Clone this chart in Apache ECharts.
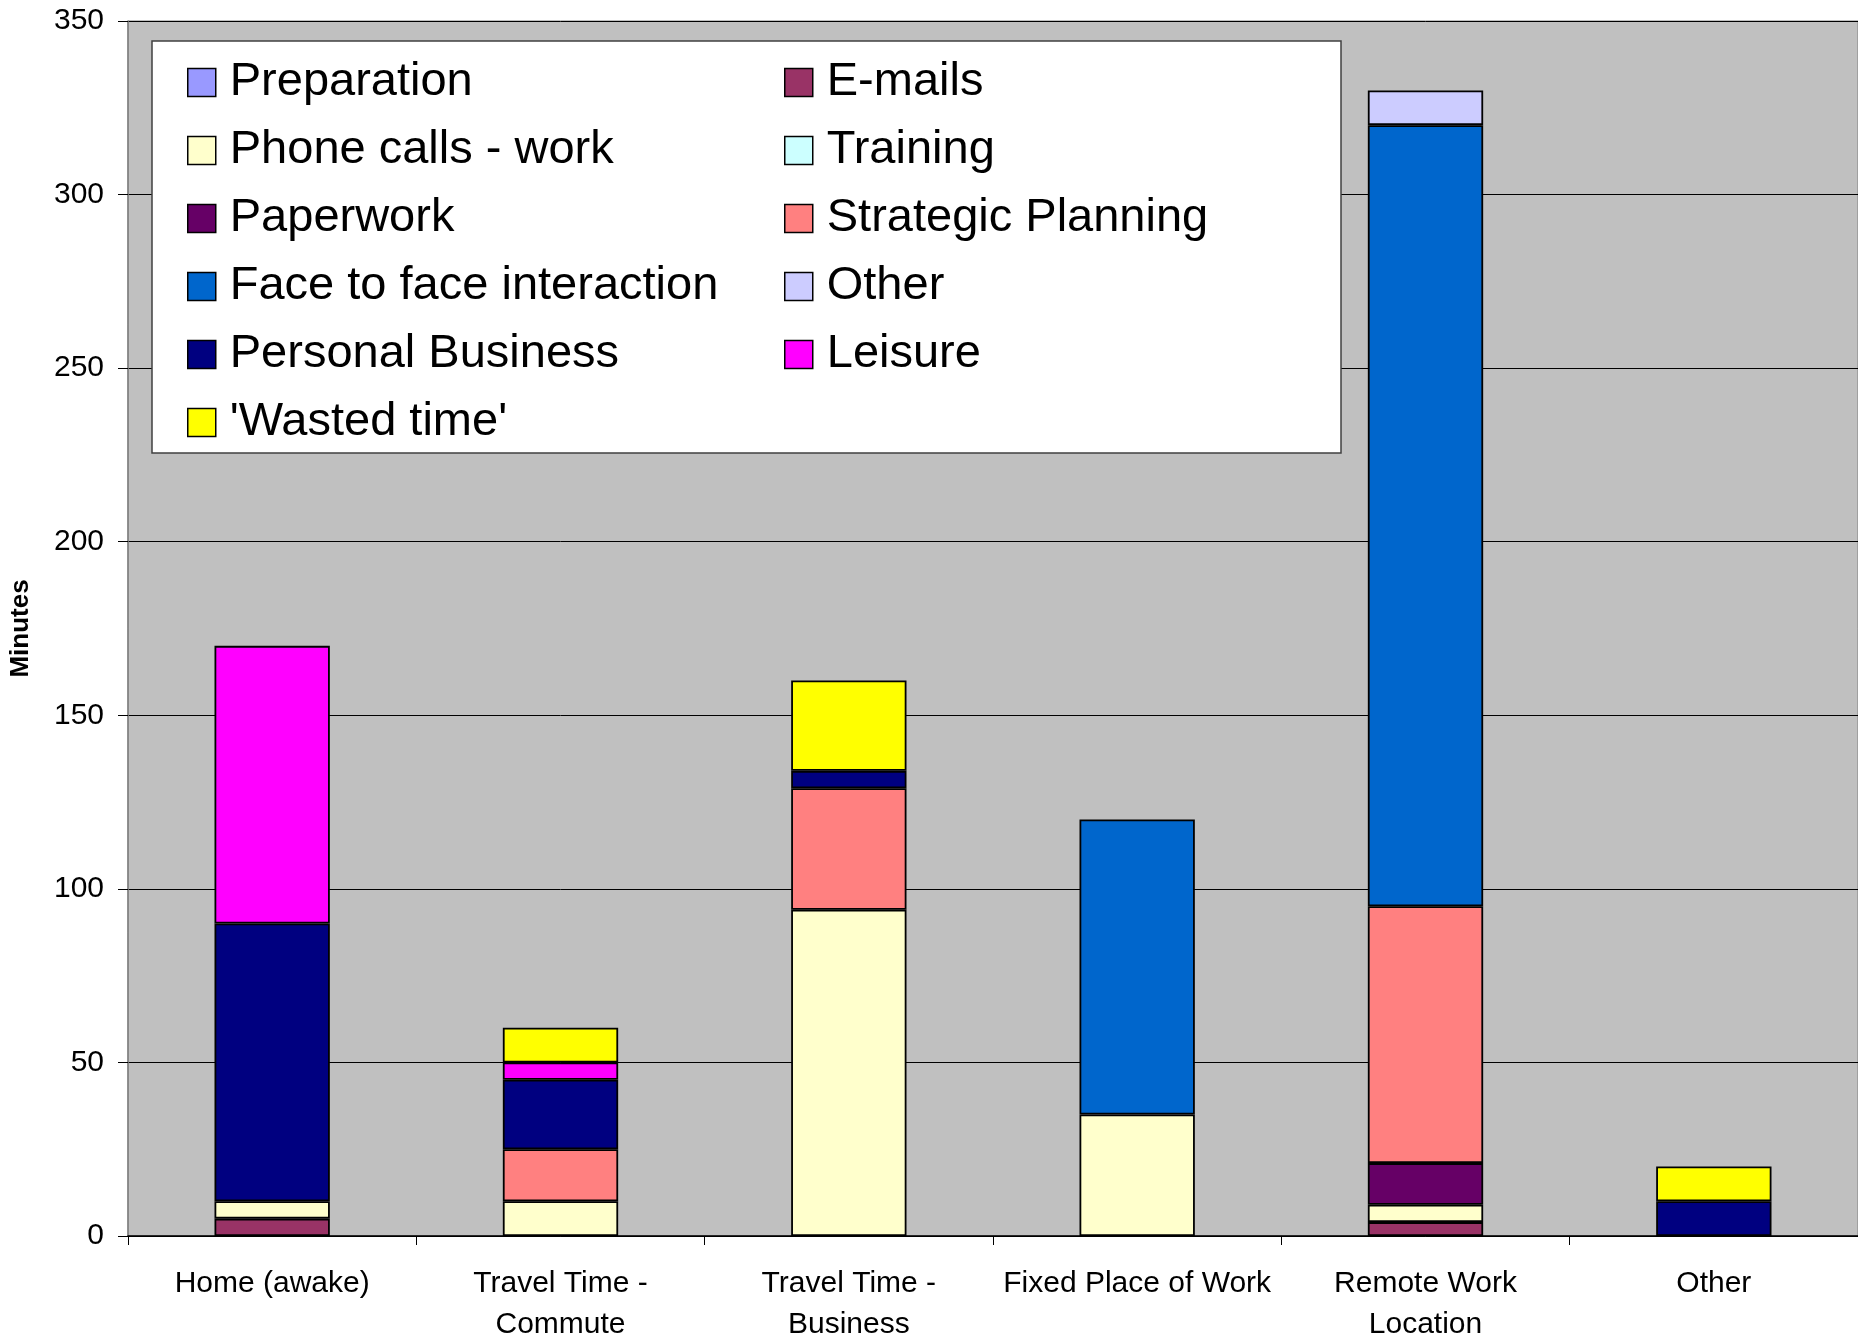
<!DOCTYPE html>
<html>
<head>
<meta charset="utf-8">
<script src="https://cdn.jsdelivr.net/npm/echarts@6/dist/echarts.min.js"></script>
<style>
html,body{margin:0;padding:0;background:#fff;}
#chart{width:1858px;height:1338px;}
</style>
</head>
<body>
<div id="chart"></div>
<script>
const categories = ['Home (awake)', 'Travel Time -\nCommute', 'Travel Time -\nBusiness', 'Fixed Place of Work', 'Remote Work\nLocation', 'Other'];
const seriesNames = ['Preparation', 'E-mails', 'Phone calls - work', 'Training', 'Paperwork', 'Strategic Planning', 'Face to face interaction', 'Other', 'Personal Business', 'Leisure', "'Wasted time'"];
const seriesColors = ['#9999FF', '#993366', '#FFFFCC', '#CCFFFF', '#660066', '#FF8080', '#0066CC', '#CCCCFF', '#000080', '#FF00FF', '#FFFF00'];
const preparation = [0, 0, 0, 0, 0, 0];
const emails = [5, 0, 0, 0, 4, 0];
const phoneCalls = [5, 10, 94, 35, 5, 0];
const training = [0, 0, 0, 0, 0, 0];
const paperwork = [0, 0, 0, 0, 12, 0];
const strategicPlanning = [0, 15, 35, 0, 74, 0];
const faceToFace = [0, 0, 0, 85, 225, 0];
const otherActivity = [0, 0, 0, 0, 10, 0];
const personalBusiness = [80, 20, 5, 0, 0, 10];
const leisure = [80, 5, 0, 0, 0, 0];
const wastedTime = [0, 10, 26, 0, 0, 10];
const yTicks = [0, 50, 100, 150, 200, 250, 300, 350];

const seriesValues = [preparation, emails, phoneCalls, training, paperwork, strategicPlanning, faceToFace, otherActivity, personalBusiness, leisure, wastedTime];

const FONT = "'Liberation Sans', Arial, sans-serif";
const chart = echarts.init(document.getElementById('chart'), null, {renderer: 'canvas'});

const series = seriesNames.map((name, i) => ({
  name: name,
  type: 'bar',
  stack: 'total',
  barWidth: '40%',
  data: seriesValues[i].map(v => (v === 0 ? null : v)),
  itemStyle: {color: seriesColors[i], borderColor: '#000', borderWidth: 1.8},
  emphasis: {disabled: true},
  animation: false
}));

const legendCommon = {
  orient: 'vertical',
  icon: 'rect',
  itemWidth: 28,
  itemHeight: 28,
  itemGap: 21,
  padding: 0,
  selectedMode: false,
  itemStyle: {borderColor: '#000', borderWidth: 1.5},
  textStyle: {fontSize: 47, fontFamily: FONT, color: '#000', padding: [0, 0, 0, 9]}
};

chart.setOption({
  backgroundColor: '#fff',
  animation: false,
  grid: {left: 128, right: 0, top: 21, bottom: 102, outerBoundsMode: 'none', containLabel: false, show: true, backgroundColor: '#C0C0C0', borderColor: '#808080', borderWidth: 1},
  graphic: [{
    type: 'rect',
    z: 3,
    shape: {x: 152, y: 41, width: 1189, height: 412},
    style: {fill: '#fff', stroke: '#404040', lineWidth: 1.5}
  }],
  legend: [
    Object.assign({}, legendCommon, {left: 187, top: 59, data: [seriesNames[0], seriesNames[2], seriesNames[4], seriesNames[6], seriesNames[8], seriesNames[10]]}),
    Object.assign({}, legendCommon, {left: 784, top: 59, data: [seriesNames[1], seriesNames[3], seriesNames[5], seriesNames[7], seriesNames[9]]})
  ],
  xAxis: {
    type: 'category',
    data: categories,
    boundaryGap: true,
    axisLine: {lineStyle: {color: '#000', width: 1.5}},
    axisTick: {show: true, length: 9, alignWithLabel: false, lineStyle: {color: '#000'}},
    axisLabel: {fontSize: 30, fontFamily: FONT, color: '#000', lineHeight: 41, margin: 27, interval: 0},
    splitLine: {show: false}
  },
  yAxis: {
    type: 'value',
    min: yTicks[0],
    max: yTicks[yTicks.length - 1],
    interval: yTicks[1] - yTicks[0],
    name: 'Minutes',
    nameLocation: 'middle',
    nameGap: 94,
    nameRotate: 90,
    nameTextStyle: {fontSize: 26, fontWeight: 'bold', fontFamily: FONT, color: '#000'},
    axisLine: {show: true, lineStyle: {color: '#808080', width: 1.5}},
    axisTick: {show: true, length: 10, lineStyle: {color: '#000'}},
    axisLabel: {fontSize: 30, fontFamily: FONT, color: '#000', margin: 24},
    splitLine: {show: true, lineStyle: {color: '#000', width: 1}}
  },
  series: series
});
</script>
</body>
</html>
